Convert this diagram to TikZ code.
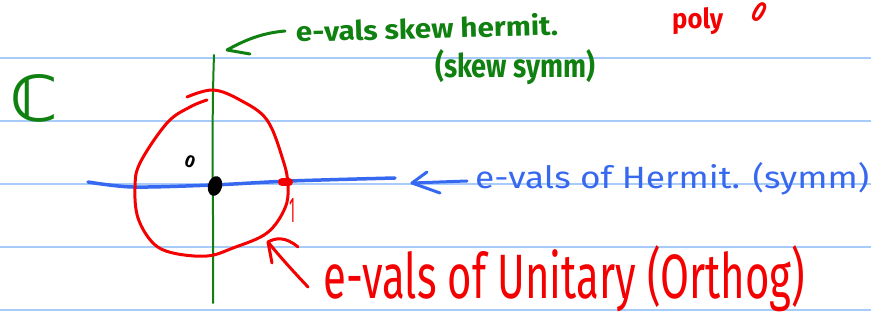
\documentclass[tikz,border=0pt]{standalone}
\usepackage{fontspec}
\setmainfont{Fira Sans}
\newfontfamily\symfont{DejaVu Sans}
\usepackage{graphicx}
\definecolor{ruleblue}{RGB}{168,204,250}
\definecolor{pengreen}{RGB}{16,128,16}
\definecolor{penred}{RGB}{245,0,0}
\definecolor{penblue}{RGB}{55,105,240}
% handwritten-style label squeezed into a given width and height (pt)
\newcommand{\handtext}[3]{\resizebox{#1pt}{#2pt}{#3}}

\begin{document}
\begin{tikzpicture}[x=1pt,y=-1pt,
  pen/.style={line width=#1, line cap=round, line join=round},
  pen/.default=3,
  lbl/.style={inner sep=0pt, anchor=base west}]
\useasboundingbox (0,0) rectangle (871,331);
\fill[white] (0,0) rectangle (871,331);

% ruled paper
\foreach \y in {58,121,184,247,310}
  \draw[ruleblue, line width=2] (0,\y) -- (871,\y);

% the complex plane
\node[lbl, text=pengreen] (cc) at (10,122) {\handtext{48}{47}{\symfont\bfseries ℂ}};

% imaginary axis
\coordinate (imtop) at (214,55);
\coordinate (imbot) at (213,303);
\draw[pengreen, pen=2] (imtop) .. controls (211,140) and (214,220) .. (imbot);

% real axis
\coordinate (releft) at (88,182);
\coordinate (reright) at (395,178);
\draw[penblue, pen=3.5] plot[smooth] coordinates
  {(releft) (133,187) (213,185) (290,181) (reright)};

% unit circle
\draw[penred, pen=3] plot[smooth, tension=0.6] coordinates
  {(187,97) (213,90) (240,100) (267,120) (283,160) (288,185) (285,208)
   (267,233) (233,248) (207,256) (173,253) (153,243) (138,218) (135,188)
   (140,163) (167,123) (190,107) (207,100)};

% origin and the point 1
\fill[black, rotate around={-15:(215,186)}] (215,186) ellipse [x radius=7, y radius=10];
\node[inner sep=0pt, rotate=-20] (zero) at (190,162) {\handtext{10}{12}{\bfseries 0}};
\draw[penred, line width=8, line cap=round] (282,182) -- (289,182);
\node[lbl, text=penred] (one) at (289,223) {\handtext{6}{24}{1}};

% labels
\node[lbl, text=pengreen, rotate=1.5] (skewh) at (296,42) {\handtext{262}{22}{\bfseries e-vals skew hermit.}};
\node[lbl, text=pengreen] (skews) at (435,78) {\handtext{160}{28}{\bfseries (skew symm)}};
\node[lbl, text=penblue] (herm) at (475,189) {\handtext{394}{26}{e-vals of Hermit. (symm)}};
\node[lbl, text=penred] (unit) at (323,299) {\handtext{482}{53}{e-vals of Unitary (Orthog)}};
\node[lbl, text=penred] (poly) at (672,29) {\handtext{51}{21}{\bfseries poly}};
\node[inner sep=0pt, text=penred, rotate=-30] (polyzero) at (760,12) {\handtext{12}{20}{\bfseries 0}};

% arrow to the imaginary axis
\coordinate (gtail) at (285,31);
\coordinate (gtip) at (227,50);
\draw[pengreen, pen=3] (gtail) .. controls (262,33) and (245,40) .. (gtip) -- (250,54);

% arrow to the real axis
\coordinate (btail) at (467,181);
\coordinate (btip) at (412,183);
\draw[penblue, pen=3] (btail) -- (btip);
\draw[penblue, pen=3] (427,172) -- (btip) -- (440,193);

% arrow to the unit circle
\coordinate (rtail) at (308,287);
\coordinate (rtip) at (268,242);
\draw[penred, pen=3] (rtail) .. controls (290,268) and (276,252) .. (rtip);
\draw[penred, pen=3] (298,247) .. controls (285,236) and (275,238) .. (rtip) -- (272,263);
\end{tikzpicture}
\end{document}
